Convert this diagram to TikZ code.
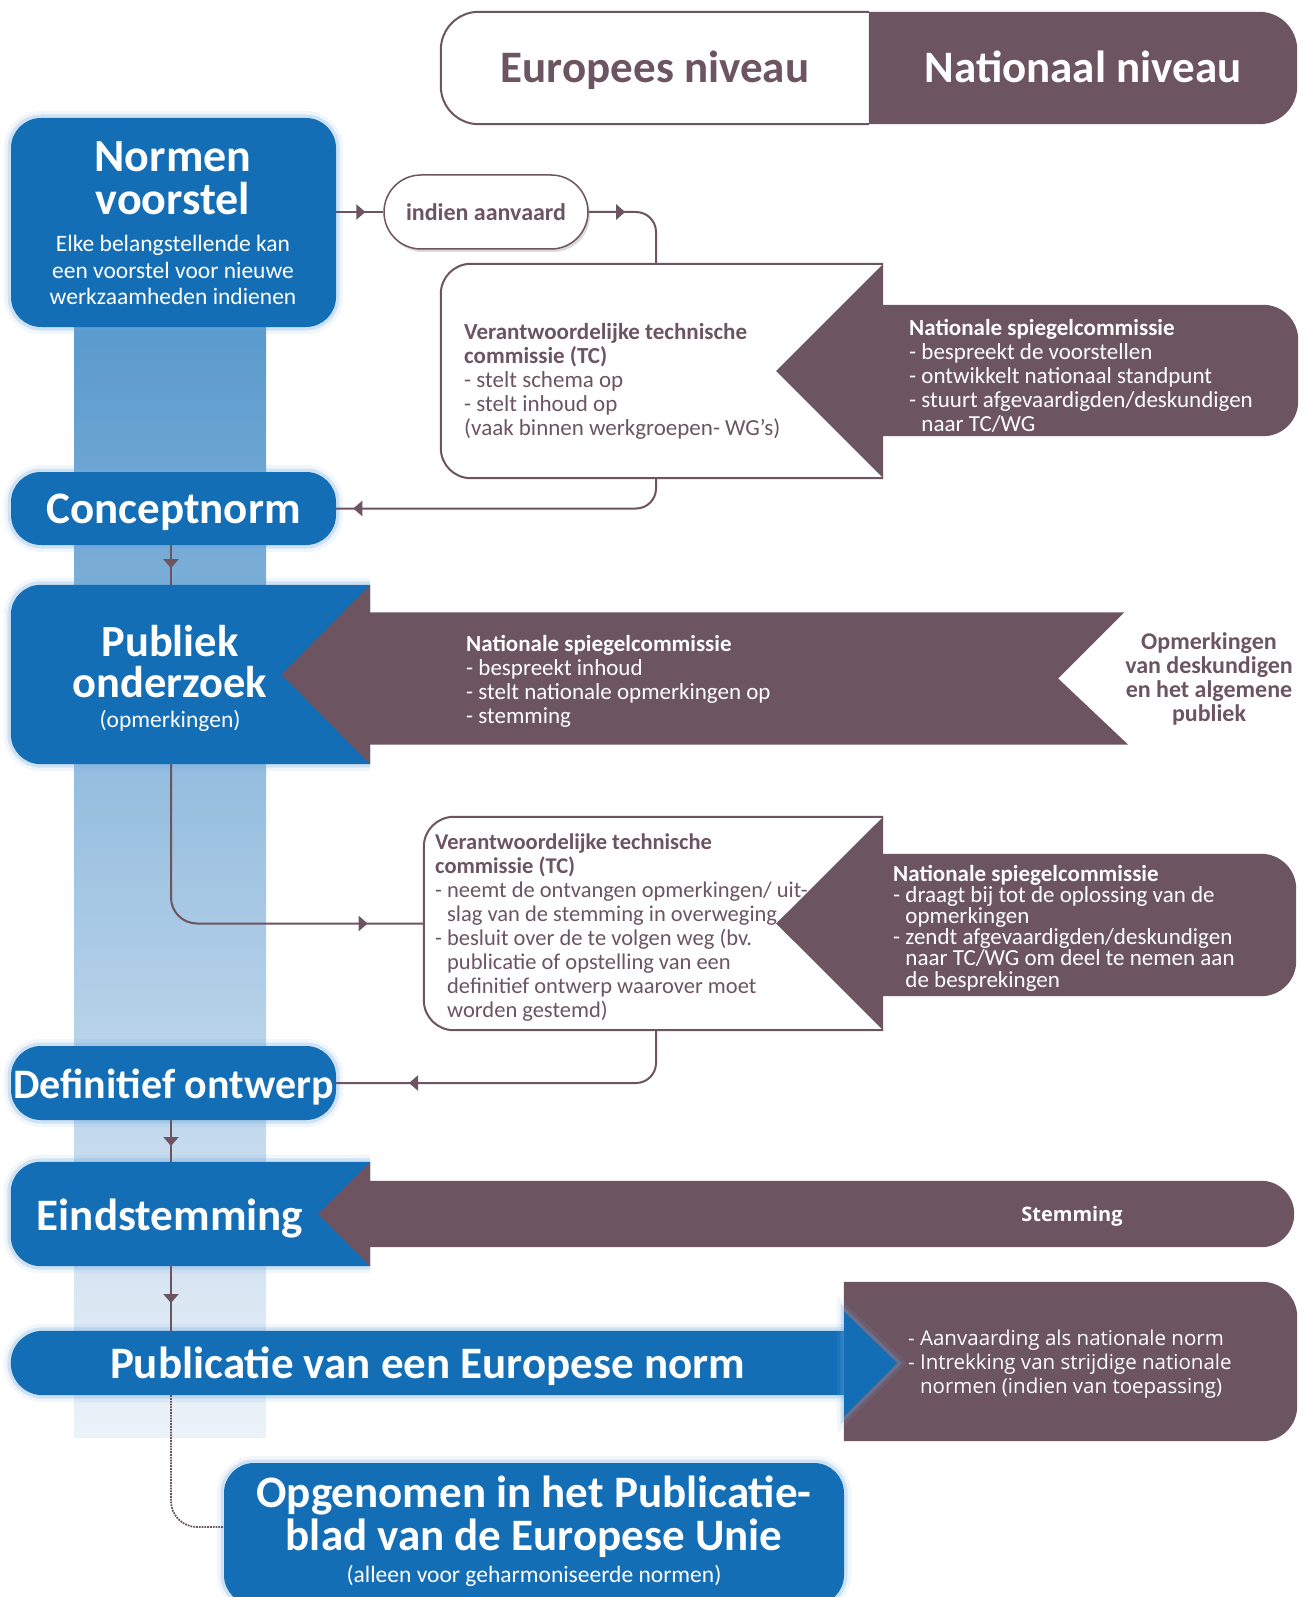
\documentclass[tikz,border=0pt]{standalone}
\usepackage{fontspec}
\setmainfont{Carlito}
\newfontfamily\opensans{Open Sans}
\usetikzlibrary{arrows.meta,decorations.markings,backgrounds}

\definecolor{eublue}{RGB}{19,110,182}
\definecolor{mauve}{RGB}{108,84,96}
\definecolor{glowblue}{RGB}{110,170,225}
\definecolor{bandtop}{RGB}{90,154,205}
\definecolor{bandbot}{RGB}{236,242,249}

\newcommand{\dashind}{\hphantom{-\ }}

\tikzset{
  glow/.style={preaction={draw=glowblue, line width=14pt, opacity=.10},
               preaction={draw=glowblue, line width=7pt, opacity=.25}},
  bluebox/.style={fill=eublue, rounded corners=30pt, inner sep=0pt, glow,
                  text=white, font=\fontsize{45}{45}\selectfont\bfseries},
  shapebox/.style={inner sep=0pt},
  oneline/.style={text height=30pt, text depth=0pt},
  hdr/.style={minimum width=428pt, minimum height=112pt, inner sep=0pt,
              text height=29pt, text depth=0pt,
              font=\fontsize{45}{45}\selectfont\bfseries},
  boxtitle/.style={text=white, align=center, inner sep=0pt,
                   font=\fontsize{46}{43}\selectfont\bfseries},
  subtitle/.style={text=white, align=center, inner sep=0pt,
                   font=\fontsize{23.5}{26.5}\selectfont},
  body/.style={anchor=west, align=left, inner sep=0pt,
               font=\fontsize{23}{24}\selectfont},
  pill/.style={draw=mauve, line width=1.5pt, fill=white, rounded corners=37pt,
               minimum width=204pt, minimum height=74pt, inner sep=0pt, text=mauve,
               font=\fontsize{24}{24}\selectfont\bfseries,
               preaction={fill=black, opacity=.15, transform canvas={xshift=2pt, yshift=-3pt}}},
  conn/.style={draw=mauve, line width=2pt},
  midarrow/.style={postaction={decorate, decoration={markings,
      mark=at position #1 with {\arrow[mauve]{Triangle[length=9pt,width=15pt]}}}}},
}

\begin{document}
\begin{tikzpicture}[x=1pt, y=-1pt]
  \useasboundingbox (0,0) rectangle (1306,1597);
  \coordinate (spine) at (171,0);

  % column headers
  \node[hdr, text=mauve] (euro) at (655,68) {Europees niveau};
  \node[hdr, text=white] (nat) at (1083,68) {Nationaal niveau};

  % left column
  \node[bluebox, minimum width=325pt, minimum height=209pt] (normen) at (173.5,222.5) {};
  \node[boxtitle] (normentitle) at (173,178) {Normen\\voorstel};
  \node[subtitle] (normensub) at (173,270) {Elke belangstellende kan\\een voorstel voor nieuwe\\werkzaamheden indienen};
  \node[bluebox, oneline, minimum width=325pt, minimum height=73pt] (concept) at (173.5,508.5) {Conceptnorm};
  \node[shapebox, minimum width=359pt, minimum height=179pt] (publiek) at (190.5,674.5) {};
  \node[boxtitle, font=\fontsize{44.5}{41}\selectfont\bfseries] (publiektitle) at (170,662) {Publiek\\onderzoek};
  \node[subtitle] (publieksub) at (170,721) {(opmerkingen)};
  \node[bluebox, oneline, minimum width=325pt, minimum height=74pt, font=\fontsize{42}{42}\selectfont\bfseries] (defin) at (173.5,1083) {Definitief ontwerp};
  \node[shapebox, minimum width=359pt, minimum height=104pt] (eind) at (190.5,1214) {};
  \node[boxtitle, oneline, font=\fontsize{45}{45}\selectfont\bfseries] (eindtitle) at (170,1215) {Eindstemming};
  \node[shapebox, oneline, minimum width=833pt, minimum height=64pt, text=white, font=\fontsize{45}{45}\selectfont\bfseries] (publ) at (427.5,1363) {Publicatie van een Europese norm};
  \node[bluebox, minimum width=620pt, minimum height=142pt] (opgen) at (534,1534) {};
  \node[boxtitle, font=\fontsize{45}{43}\selectfont\bfseries] (opgentitle) at (534,1517) {Opgenomen in het Publicatie-\\blad van de Europese Unie};
  \node[subtitle] (opgensub) at (534,1576) {(alleen voor geharmoniseerde normen)};

  % middle and right
  \node[pill] (pill) at (486,212) {indien aanvaard};
  \node[shapebox, minimum width=442pt, minimum height=214pt] (tc1) at (662,371) {};
  \node[shapebox, minimum width=415pt, minimum height=131pt] (nsc1) at (1090.5,370.5) {};
  \node[shapebox, minimum width=756pt, minimum height=132pt] (nsc2) at (748,678.5) {};
  \node[shapebox, minimum width=459pt, minimum height=213pt] (tc2) at (653.5,923.5) {};
  \node[shapebox, minimum width=413pt, minimum height=142pt] (nsc3) at (1089.5,925) {};
  \node[shapebox, minimum width=924pt, minimum height=66pt] (vote) at (832,1214) {};
  \node[shapebox, minimum width=453pt, minimum height=159pt] (adopt) at (1070.5,1361.5) {};

  \node[body, text=mauve] (tc1txt) at (464,381) {\textbf{Verantwoordelijke technische}\\
    \textbf{commissie (TC)}\\
    - stelt schema op\\
    - stelt inhoud op\\
    (vaak binnen werkgroepen- WG's)};
  \node[body, text=white] (nsc1txt) at (909,376) {\textbf{Nationale spiegelcommissie}\\
    - bespreekt de voorstellen\\
    - ontwikkelt nationaal standpunt\\
    - stuurt afgevaardigden/deskundigen\\
    \dashind naar TC/WG};
  \node[body, text=white] (nsc2txt) at (466,681) {\textbf{Nationale spiegelcommissie}\\
    - bespreekt inhoud\\
    - stelt nationale opmerkingen op\\
    - stemming};
  \node[text=mauve, align=center, inner sep=0pt, font=\fontsize{24}{24}\selectfont\bfseries] (opm) at (1209,679) {Opmerkingen\\van deskundigen\\en het algemene\\publiek};
  \node[body, text=mauve, font=\fontsize{22.5}{24}\selectfont] (tc2txt) at (435,927.5) {\textbf{Verantwoordelijke technische}\\
    \textbf{commissie (TC)}\\
    - neemt de ontvangen opmerkingen/ uit-\\
    \dashind slag van de stemming in overweging\\
    - besluit over de te volgen weg (bv.\\
    \dashind publicatie of opstelling van een\\
    \dashind definitief ontwerp waarover moet\\
    \dashind worden gestemd)};
  \node[body, text=white, font=\fontsize{23}{21.2}\selectfont] (nsc3txt) at (893,928) {\textbf{Nationale spiegelcommissie}\\
    - draagt bij tot de oplossing van de\\
    \dashind opmerkingen\\
    - zendt afgevaardigden/deskundigen\\
    \dashind naar TC/WG om deel te nemen aan\\
    \dashind de besprekingen};
  \node[text=white, inner sep=0pt, text height=14pt, text depth=0pt, font=\opensans\fontsize{20}{20}\selectfont\bfseries] (votetxt) at (1072,1214) {Stemming};
  \node[body, text=white, font=\opensans\fontsize{20.5}{24}\selectfont] (adopttxt) at (908,1364) {- Aanvaarding als nationale norm\\
    - Intrekking van strijdige nationale\\
    \dashind normen (indien van toepassing)};

  \begin{scope}[on background layer]
    \fill[white] (0,0) rectangle (1306,1597);
    \shade[top color=bandtop, bottom color=bandbot] (74,327) rectangle (266,1437);
    % headers
    \draw[mauve, line width=2pt, fill=white, rounded corners=38pt]
      (euro.north east) -- (euro.north west) -- (euro.south west) -- (euro.south east);
    \fill[mauve, rounded corners=38pt]
      (nat.north west) -- (nat.north east) -- (nat.south east) -- (nat.south west);
    % committee, first round
    \draw[mauve, line width=2pt, fill=white, rounded corners=30pt]
      (tc1.north east) -- (tc1.north west) -- (tc1.south west) -- (tc1.south east);
    \fill[mauve, rounded corners=35pt]
      (nsc1.south west) -- (nsc1.south east) -- (nsc1.north east) -- (nsc1.north west);
    \fill[mauve] (tc1.north east) -- ([xshift=-107pt]tc1.east) -- (tc1.south east) -- cycle;
    % public enquiry
    \fill[eublue, glow, rounded corners=30pt]
      (publiek.north east) -- (publiek.north west) -- (publiek.south west) -- (publiek.south east);
    \fill[mauve] (publiek.north east) -- ([xshift=-89pt]publiek.east) -- (publiek.south east) -- cycle;
    \fill[mauve] (nsc2.north west) -- ([xshift=-2pt]nsc2.north east) -- ([xshift=-68pt]nsc2.east)
      -- ([xshift=2pt]nsc2.south east) -- (nsc2.south west) -- cycle;
    % committee, second round
    \draw[mauve, line width=2pt, fill=white, rounded corners=30pt]
      (tc2.north east) -- (tc2.north west) -- (tc2.south west) -- (tc2.south east);
    \fill[mauve, rounded corners=35pt]
      (nsc3.south west) -- (nsc3.south east) -- (nsc3.north east) -- (nsc3.north west);
    \fill[mauve] (tc2.north east) -- ([xshift=-107pt]tc2.east) -- (tc2.south east) -- cycle;
    % final vote
    \fill[eublue, glow, rounded corners=30pt]
      (eind.north east) -- (eind.north west) -- (eind.south west) -- (eind.south east);
    \fill[mauve] (eind.north east) -- ([xshift=-52pt]eind.east) -- (eind.south east) -- cycle;
    \fill[mauve, rounded corners=33pt]
      (vote.south west) -- (vote.south east) -- (vote.north east) -- (vote.north west);
    % publication
    \fill[mauve, rounded corners=35pt]
      (adopt.south west) -- (adopt.south east) -- (adopt.north east) -- (adopt.north west);
    \fill[eublue, glow, rounded corners=32pt]
      (publ.north east) -- (publ.north west) -- (publ.south west) -- (publ.south east);
    \fill[eublue, glow] ([yshift=19pt]publ.north east) -- ([xshift=53pt]publ.east)
      -- ([yshift=-21pt]publ.south east) -- cycle;
  \end{scope}

  % connectors
  \draw[conn, midarrow=.62] (normen.east |- pill.west) -- (pill.west);
  \draw[conn, rounded corners=20pt, midarrow=.33] (pill.east) -| ([xshift=-6pt]tc1.north);
  \draw[conn, rounded corners=20pt, midarrow=.95] ([xshift=-6pt]tc1.south) |- (concept.east);
  \draw[conn, midarrow=.58] (spine |- concept.south) -- (spine |- publiek.north);
  \draw[conn, rounded corners=26pt, midarrow=.86] (spine |- publiek.south) |- (tc2.west);
  \draw[conn, rounded corners=20pt, midarrow=.8] ([xshift=2.5pt]tc2.south) |- (defin.east);
  \draw[conn, midarrow=.62] (spine |- defin.south) -- (spine |- eind.north);
  \draw[conn, midarrow=.57] (spine |- eind.south) -- (spine |- publ.north);
  \draw[mauve, line width=1.8pt, densely dotted, rounded corners=26pt]
    (spine |- publ.south) |- ([yshift=7pt]opgen.west);
\end{tikzpicture}
\end{document}
